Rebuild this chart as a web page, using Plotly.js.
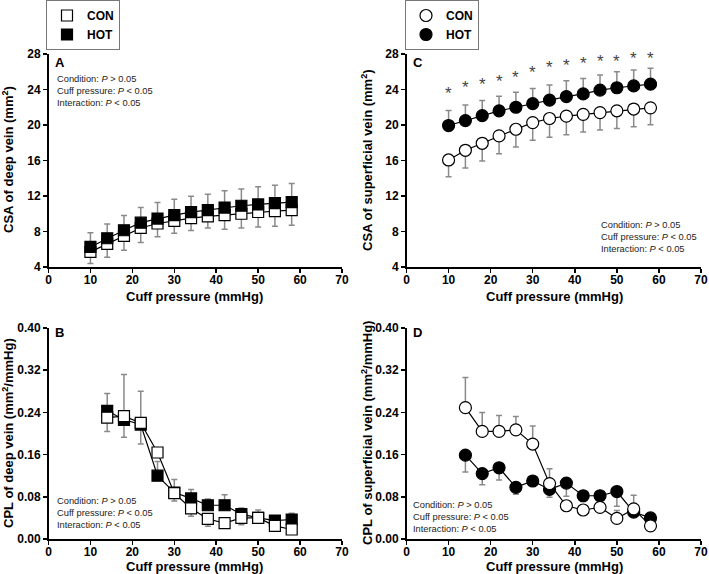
<!DOCTYPE html>
<html>
<head>
<meta charset="utf-8">
<script src="https://cdn.plot.ly/plotly-3.0.1.min.js"></script>
<style>html,body{margin:0;padding:0;background:#fff;}#chart{width:709px;height:574px;}</style>
</head>
<body>
<div id="chart"></div>
<script>
// ---- data ----
const pressA = [10,14,18,22,26,30,34,38,42,46,50,54,58];
const pressB = [14,18,22,26,30,34,38,42,46,50,54,58];

// Panel A: CSA deep vein (mm2)
const csaDeepCON = [5.7,6.6,7.5,8.4,8.9,9.2,9.5,9.7,9.85,10.0,10.2,10.3,10.4];
const csaDeepCONerr = [1.3,1.5,1.6,1.65,1.5,1.4,1.4,1.3,1.6,1.6,1.7,1.7,1.7];
const csaDeepHOT = [6.26,7.24,8.14,9.0,9.46,9.84,10.18,10.4,10.7,10.9,11.05,11.2,11.3];
const csaDeepHOTerr = [1.6,1.6,1.66,1.7,1.8,1.8,1.8,1.8,1.9,1.9,2.0,2.0,2.1];

// Panel C: CSA superficial vein (mm2)
const csaSupCON = [16.06,17.15,17.94,18.77,19.52,20.27,20.73,21.0,21.2,21.4,21.6,21.8,21.93];
const csaSupCONerr = [1.9,2.0,2.0,2.0,2.0,2.0,2.1,2.1,2.0,1.95,2.0,2.0,1.9];
const csaSupHOT = [19.94,20.5,21.05,21.6,22.0,22.4,22.8,23.2,23.5,23.93,24.2,24.4,24.6];
const csaSupHOTerr = [1.7,1.75,1.7,1.65,1.7,1.7,1.7,1.8,1.75,1.7,1.8,1.8,1.8];
const sigSup = [23.97,24.68,25.02,25.32,25.78,26.38,26.9,27.17,27.36,27.59,27.66,27.92,28.0];

// Panel B: CPL deep vein (mm2/mmHg)
const cplDeepCON = [0.230,0.233,0.220,0.164,0.087,0.058,0.038,0.030,0.040,0.040,0.025,0.018];
const cplDeepCONup = [0,0.079,0.060,0,0,0,0,0,0,0,0,0];
const cplDeepCONdn = [0.026,0,0,0,0.015,0.015,0.014,0.005,0.013,0.010,0.005,0.005];
const cplDeepHOT = [0.243,0.226,0.217,0.120,0.088,0.077,0.064,0.064,0.047,0.040,0.035,0.037];
const cplDeepHOTup = [0.033,0,0,0.027,0.025,0.017,0.012,0.020,0.012,0.015,0.005,0.012];
const cplDeepHOTdn = [0,0.033,0.037,0,0,0,0,0,0,0,0,0];

// Panel D: CPL superficial vein (mm2/mmHg)
const cplSupCON = [0.249,0.204,0.204,0.207,0.180,0.105,0.063,0.055,0.060,0.039,0.057,0.025];
const cplSupCONup = [0.057,0.036,0.030,0.025,0.034,0.028,0,0,0,0.015,0.026,0];
const cplSupHOT = [0.159,0.124,0.135,0.098,0.110,0.094,0.106,0.082,0.082,0.090,0.051,0.040];
const cplSupHOTdn = [0.032,0.021,0.023,0.013,0.010,0.015,0.025,0.011,0.004,0.028,0.008,0.004];

const statLines = ['Condition: <i>P</i> > 0.05','Cuff pressure: <i>P</i> < 0.05','Interaction: <i>P</i> < 0.05'];
const xTitle = 'Cuff pressure (mmHg)';
const yTitles = ['CSA of deep vein (mm<sup>2</sup>)', 'CSA of superficial vein (mm<sup>2</sup>)',
                 'CPL of deep vein (mm<sup>2</sup>/mmHg)', 'CPL of superficial vein (mm<sup>2</sup>/mmHg)'];

// ---- styling ----
const FONT = 'Arial, "Liberation Sans", sans-serif';
const ERRC = '#8a8a8a';
const W = 709, H = 574;
const px = v => v / W;
const py = v => 1 - v / H;

function line(x, y, xa, ya) {
  return {type:'scatter', mode:'lines', x:x, y:y, xaxis:xa, yaxis:ya, showlegend:false,
    line:{color:'#000', width:1.2}, hoverinfo:'skip'};
}
function pts(x, y, xa, ya, sym, size, fill, up, dn, name, leg, show) {
  const err = {type:'data', symmetric:false, array:up || x.map(()=>0), arrayminus:dn || x.map(()=>0),
    color:ERRC, thickness:1.5, width:3};
  return {type:'scatter', mode:'markers', x:x, y:y, xaxis:xa, yaxis:ya, name:name,
    legend:leg, showlegend:show,
    marker:{symbol:sym, size:size, color:fill, line:{color:'#000', width:1.2}},
    error_y:err};
}

const traces = [
  // A
  line(pressA, csaDeepCON, 'x', 'y'),
  line(pressA, csaDeepHOT, 'x', 'y'),
  pts(pressA, csaDeepCON, 'x', 'y', 'square', 11, '#fff', null, csaDeepCONerr, 'CON', 'legend', true),
  pts(pressA, csaDeepHOT, 'x', 'y', 'square', 11, '#000', csaDeepHOTerr, null, 'HOT', 'legend', true),
  // C
  line(pressA, csaSupCON, 'x2', 'y2'),
  line(pressA, csaSupHOT, 'x2', 'y2'),
  pts(pressA, csaSupCON, 'x2', 'y2', 'circle', 12, '#fff', null, csaSupCONerr, 'CON', 'legend2', true),
  pts(pressA, csaSupHOT, 'x2', 'y2', 'circle', 12, '#000', csaSupHOTerr, null, 'HOT', 'legend2', true),
  // B
  line(pressB, cplDeepCON, 'x3', 'y3'),
  line(pressB, cplDeepHOT, 'x3', 'y3'),
  pts(pressB, cplDeepHOT, 'x3', 'y3', 'square', 11, '#000', cplDeepHOTup, cplDeepHOTdn, 'HOT', 'legend', false),
  pts(pressB, cplDeepCON, 'x3', 'y3', 'square', 11, '#fff', cplDeepCONup, cplDeepCONdn, 'CON', 'legend', false),
  // D
  line(pressB, cplSupCON, 'x4', 'y4'),
  line(pressB, cplSupHOT, 'x4', 'y4'),
  pts(pressB, cplSupHOT, 'x4', 'y4', 'circle', 12, '#000', null, cplSupHOTdn, 'HOT', 'legend2', false),
  pts(pressB, cplSupCON, 'x4', 'y4', 'circle', 12, '#fff', cplSupCONup, null, 'CON', 'legend2', false)
];

const tickfont = {family:FONT, size:12, color:'#000', weight:'bold'};
const titlefont = {family:FONT, size:13, color:'#000', weight:'bold'};
function xax(dom, anchor) {
  return {domain:dom, anchor:anchor, range:[0,70], tickvals:[0,10,20,30,40,50,60,70],
    showline:true, linecolor:'#000', linewidth:1.5, ticks:'outside', ticklen:4, tickwidth:1.5, tickcolor:'#000',
    ticklabelstandoff:-3, showgrid:false, zeroline:false, tickfont:tickfont};
}
function yax(dom, anchor, range, dtick, fmt) {
  return {domain:dom, anchor:anchor, range:range, dtick:dtick, tick0:range[0], tickformat:fmt,
    showline:true, linecolor:'#000', linewidth:1.5, ticks:'outside', ticklen:4, tickwidth:1.5, tickcolor:'#000',
    showgrid:false, zeroline:false, tickfont:tickfont};
}
const xL = [px(48.5), px(342)], xR = [px(406.5), px(701)];
const yT = [py(267), py(54)], yB = [py(539), py(328)];

const statFont = {family:FONT, size:9.3, color:'#222'};
function stat(x, yMid) {
  return {xref:'paper', yref:'paper', x:px(x), y:py(yMid), xanchor:'left', yanchor:'middle', align:'left',
    showarrow:false, text:statLines.join('<br>'), font:statFont};
}
function letter(t, x, y) {
  return {xref:'paper', yref:'paper', x:px(x), y:py(y), xanchor:'left', yanchor:'middle',
    showarrow:false, text:'<b>'+t+'</b>', font:{family:FONT, size:13, color:'#000'}};
}
function xt(x, y) {
  return {xref:'paper', yref:'paper', x:px(x), y:py(y), xanchor:'center', yanchor:'middle',
    showarrow:false, text:xTitle, font:titlefont};
}
function yt(t, x, y) {
  return {xref:'paper', yref:'paper', x:px(x), y:py(y), xanchor:'center', yanchor:'middle',
    textangle:-90, showarrow:false, text:t, font:titlefont};
}
const stars = pressA.map((p, i) => ({xref:'x2', yref:'y2', x:p, y:sigSup[i], xanchor:'center', yanchor:'middle',
  yshift:-4, showarrow:false, text:'*', font:{family:FONT, size:17, color:'#444'}}));

const legendBase = {y:1, yanchor:'top', xanchor:'left', bordercolor:'#777', borderwidth:1, bgcolor:'#fff',
  font:{family:FONT, size:12, color:'#000', weight:'bold'}, itemwidth:30, tracegroupgap:0, traceorder:'normal'};

const layout = {
  width:W, height:H, margin:{l:0, r:0, t:0, b:0}, paper_bgcolor:'#fff', plot_bgcolor:'#fff',
  font:{family:FONT, color:'#000'},
  xaxis: xax(xL, 'y'), yaxis: yax(yT, 'x', [4,28], 4, ''),
  xaxis2: xax(xR, 'y2'), yaxis2: yax(yT, 'x2', [4,28], 4, ''),
  xaxis3: xax(xL, 'y3'), yaxis3: yax(yB, 'x3', [0,0.4], 0.08, '.2f'),
  xaxis4: xax(xR, 'y4'), yaxis4: yax(yB, 'x4', [0,0.4], 0.08, '.2f'),
  legend: Object.assign({x:px(46)}, legendBase),
  legend2: Object.assign({x:px(405)}, legendBase),
  annotations:[
    letter('A', 53, 62), letter('C', 411, 62), letter('B', 53, 332), letter('D', 411, 332),
    stat(55, 91.5), stat(599, 236.5), stat(55, 513), stat(411, 517),
    xt(194, 296), xt(554, 296), xt(194, 566.5), xt(554, 566.5),
    yt(yTitles[0], 8, 160), yt(yTitles[1], 367, 160), yt(yTitles[2], 8, 433), yt(yTitles[3], 367, 433),
    ...stars
  ]
};

Plotly.newPlot('chart', traces, layout, {displayModeBar:false, staticPlot:true});
</script>
</body>
</html>
